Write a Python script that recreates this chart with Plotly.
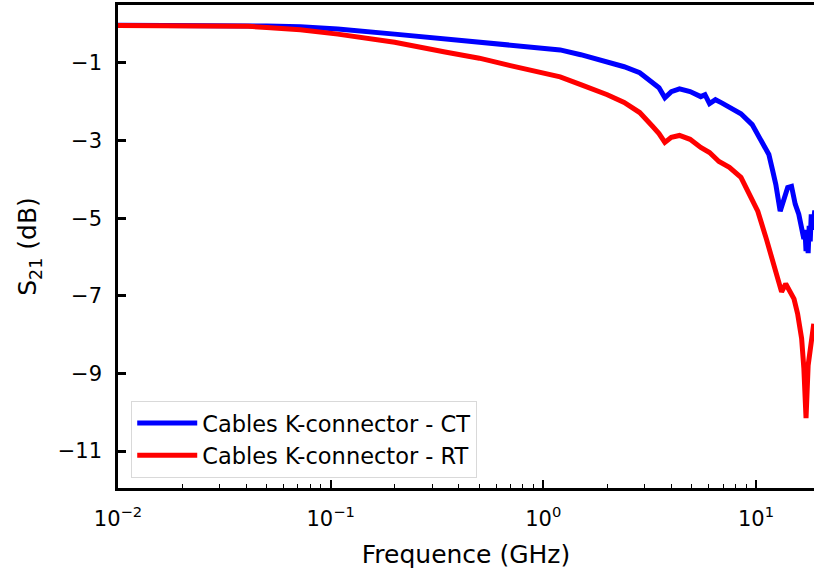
import plotly.graph_objects as go

# Frequency (GHz) and S21 (dB)
freq_ct = [0.01, 0.02, 0.041, 0.05, 0.072, 0.108, 0.2, 0.345, 0.5, 0.7, 0.96, 1.2, 1.5, 2.0,
           2.4, 2.84, 3.27, 3.5, 3.73, 4.0, 4.37, 4.9, 5.5, 5.76, 6.05, 6.45, 6.9, 7.3, 8.5,
           9.6, 10.9, 11.5, 12.0, 12.4, 13.0, 13.5, 14.1, 14.7, 15.3, 15.9, 16.5, 16.8,
           17.0, 17.2, 17.4, 17.6, 17.8, 18.0, 18.2, 18.5, 18.9]
s21_ct = [-0.03, -0.03, -0.04, -0.05, -0.07, -0.13, -0.26, -0.385, -0.47, -0.56, -0.615,
          -0.667, -0.79, -0.974, -1.10, -1.256, -1.49, -1.64, -1.90, -1.74, -1.67, -1.74,
          -1.87, -1.82, -2.05, -1.95, -2.03, -2.10, -2.31, -2.59, -3.10, -3.36, -3.79,
          -4.13, -4.82, -4.51, -4.21, -4.18, -4.64, -4.90, -5.30, -5.54, -5.30, -5.85,
          -5.50, -5.90, -5.20, -5.60, -4.90, -5.30, -4.80]

freq_rt = [0.01, 0.02, 0.041, 0.05, 0.072, 0.108, 0.2, 0.345, 0.5, 0.7, 0.96, 1.2, 1.5, 2.0,
           2.4, 2.84, 3.27, 3.5, 3.73, 4.0, 4.37, 4.9, 5.5, 6.05, 6.7, 7.5, 8.5, 9.3, 10.2,
           11.2, 12.0, 12.6, 13.2, 13.8, 14.4, 15.1, 15.7, 16.4, 16.8, 17.2, 17.6, 18.1, 18.7]
s21_rt = [-0.04, -0.04, -0.06, -0.09, -0.15, -0.26, -0.47, -0.72, -0.88, -1.07, -1.23,
          -1.36, -1.56, -1.82, -2.02, -2.28, -2.64, -2.82, -3.05, -2.92, -2.87, -2.97,
          -3.18, -3.31, -3.54, -3.69, -3.95, -4.36, -4.82, -5.54, -6.10, -6.56, -6.90,
          -6.69, -6.85, -7.08, -7.46, -8.10, -8.87, -10.15, -8.79, -8.23, -7.72]

x_tickvals = [0.01, 0.1, 1, 10]
x_ticktext = ["10<sup>−2</sup>", "10<sup>−1</sup>", "10<sup>0</sup>", "10<sup>1</sup>"]
y_tickvals = [-1, -3, -5, -7, -9, -11]
y_ticktext = ["−1", "−3", "−5", "−7", "−9", "−11"]
x_minor = [m * 10 ** e for e in (-2, -1, 0, 1) for m in range(2, 10)]

font = "DejaVu Sans"

fig = go.Figure()
fig.add_trace(go.Scatter(x=freq_ct, y=s21_ct, mode="lines", name="Cables K-connector - CT",
                         line=dict(color="#0000ff", width=5)))
fig.add_trace(go.Scatter(x=freq_rt, y=s21_rt, mode="lines", name="Cables K-connector - RT",
                         line=dict(color="#ff0000", width=5)))

fig.update_layout(
    width=814, height=573,
    margin=dict(l=118, r=0, t=5, b=85, autoexpand=False),
    plot_bgcolor="white", paper_bgcolor="white",
    font=dict(family=font, size=21, color="black"),
    showlegend=True,
    legend=dict(x=0.019, y=0.021, xanchor="left", yanchor="bottom",
                bgcolor="rgba(255,255,255,0.8)", bordercolor="#d9d9d9", borderwidth=1,
                font=dict(size=22.5, family=font), tracegroupgap=0, itemwidth=60),
    xaxis=dict(
        type="log", range=[-2, 1.273],
        tickvals=x_tickvals, ticktext=x_ticktext,
        ticks="inside", ticklen=8, tickwidth=2, tickcolor="black",
        showline=True, linecolor="black", linewidth=2.5, mirror=True,
        showgrid=False, zeroline=False,
        ticklabelstandoff=10,
        tickfont=dict(size=21),
        minor=dict(tickvals=x_minor, ticks="inside", ticklen=4, tickwidth=1.2,
                   tickcolor="black", showgrid=False),
        title=dict(text="Frequence (GHz)", font=dict(size=25), standoff=16),
    ),
    yaxis=dict(
        range=[-11.95, 0.49],
        tickvals=y_tickvals, ticktext=y_ticktext,
        ticks="inside", ticklen=8, tickwidth=2.5, tickcolor="black",
        showline=True, linecolor="black", linewidth=2.5, mirror=False,
        showgrid=False, zeroline=False,
        ticklabelstandoff=9,
        tickfont=dict(size=21),
        title=dict(text="S<sub>21</sub> (dB)", font=dict(size=25), standoff=14),
    ),
)

fig.write_html("out.html", config={"displayModeBar": False},
               post_script="document.body.style.margin='0';document.body.style.overflow='hidden';")
